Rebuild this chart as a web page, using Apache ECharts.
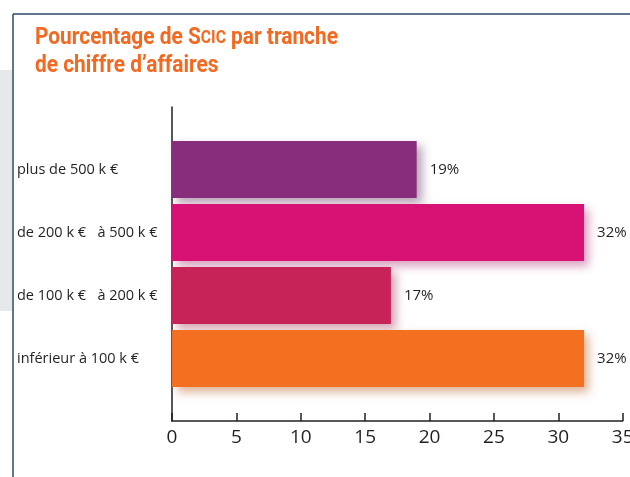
<!DOCTYPE html>
<html>
<head>
<meta charset="utf-8">
<script src="https://cdn.jsdelivr.net/npm/echarts@6/dist/echarts.min.js"></script>
<style>
  html, body { margin: 0; padding: 0; background: #fff; }
  #chart { width: 630px; height: 477px; }
</style>
</head>
<body>
<div id="chart"></div>
<script>
// tranches, top to bottom in the picture
const categories = ['plus de 500 k €', 'de 200 k €   à 500 k €', 'de 100 k €   à 200 k €', 'inférieur à 100 k €'];
const values = [19, 32, 17, 32];
const barColors = ['#882c7c', '#d81274', '#c82358', '#f37021'];
const shadowColors = ['rgba(110, 70, 110, 0.5)', 'rgba(170, 40, 110, 0.45)', 'rgba(160, 50, 90, 0.45)', 'rgba(190, 100, 40, 0.5)'];
const xTicks = [0, 5, 10, 15, 20, 25, 30, 35];

const chart = echarts.init(document.getElementById('chart'));

const titleFont = 'Roboto, Liberation Sans, sans-serif';

const option = {
  animation: false,
  graphic: [
    // grey side panel and frame
    { type: 'rect', left: 0, top: 70, shape: { width: 12, height: 241 }, style: { fill: '#e6e9ec' }, z: -1 },
    { type: 'line', shape: { x1: 13, y1: 14, x2: 630, y2: 14 }, style: { stroke: '#2d4a6a', lineWidth: 1.5 } },
    { type: 'line', shape: { x1: 13, y1: 14, x2: 13, y2: 477 }, style: { stroke: '#2d4a6a', lineWidth: 1.5 } },
    // condensed-looking title (no narrow font installed, so squeeze it)
    {
      type: 'text', x: 35, y: 24, scaleX: 0.87,
      style: {
        text: '{t|Pourcentage de S}{sc|CIC}{t| par tranche}\n{t|de chiffre d’affaires}',
        verticalAlign: 'top',
        rich: {
          t: { fontFamily: titleFont, fontWeight: 'bold', fontSize: 24, fill: '#f26a22', lineHeight: 28 },
          sc: { fontFamily: titleFont, fontWeight: 'bold', fontSize: 18, fill: '#f26a22', lineHeight: 28 }
        }
      }
    }
  ],
  grid: [
    { left: 172, right: 7.3, top: 138, bottom: 87, outerBoundsMode: 'none' },
    { left: 172, right: 7.3, top: 107, bottom: 56, outerBoundsMode: 'none' }
  ],
  xAxis: [
    { gridIndex: 0, type: 'value', min: 0, max: 35, show: false },
    {
      gridIndex: 1, type: 'value', min: 0, max: 35, interval: 5,
      axisLine: { show: true, lineStyle: { color: '#231f20', width: 1.5 } },
      axisTick: { show: true, inside: true, length: 8, lineStyle: { color: '#231f20', width: 1.5 } },
      splitLine: { show: false },
      axisLabel: {
        margin: 7, color: '#231f20', fontSize: 19, fontFamily: 'Open Sans, sans-serif',
        showMaxLabel: true, hideOverlap: false,
        formatter: v => xTicks.includes(v) ? String(v) : ''
      }
    }
  ],
  yAxis: [
    {
      gridIndex: 0, type: 'category', data: categories, inverse: true,
      axisLine: { show: false }, axisTick: { show: false },
      axisLabel: { align: 'left', margin: 155, color: '#231f20', fontSize: 14.5, fontFamily: 'Open Sans, sans-serif' }
    },
    {
      gridIndex: 1, type: 'value', min: 0, max: 1,
      axisLine: { show: true, lineStyle: { color: '#231f20', width: 1.5 } },
      axisTick: { show: false }, axisLabel: { show: false }, splitLine: { show: false }
    }
  ],
  series: [
    {
      type: 'bar',
      xAxisIndex: 0, yAxisIndex: 0,
      data: values.map((v, i) => ({
        value: v,
        itemStyle: { color: barColors[i], shadowColor: shadowColors[i] }
      })),
      barWidth: 57,
      itemStyle: {
        shadowBlur: 9,
        shadowOffsetX: 5,
        shadowOffsetY: 5
      },
      label: {
        show: true, position: 'right', distance: 13,
        formatter: '{c}%', color: '#231f20', fontSize: 15, fontFamily: 'Open Sans, sans-serif'
      }
    }
  ]
};

chart.setOption(option);
</script>
</body>
</html>
